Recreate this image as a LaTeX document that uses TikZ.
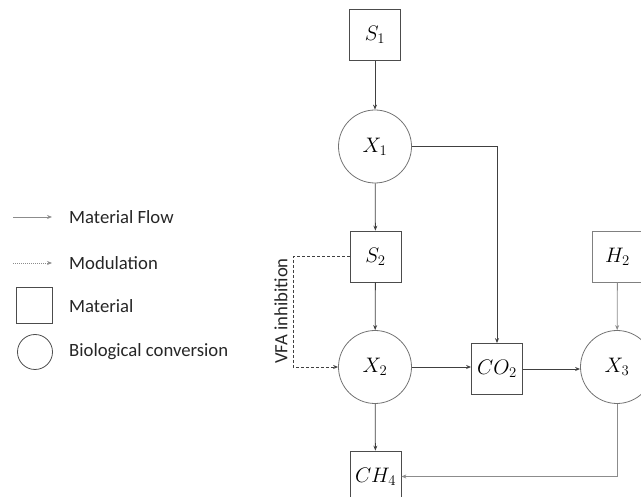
\RequirePackage{fix-cm}
\documentclass[tikz,border=0pt]{standalone}
\usepackage{fontspec}
\setsansfont{Carlito}
\usetikzlibrary{arrows.meta}
\begin{document}
\begin{tikzpicture}[x=1pt,y=-1pt,
  mat/.style={draw=black!70, line width=0.8pt, minimum width=51pt, minimum height=51pt, inner sep=0pt, font=\fontsize{21}{25}\selectfont},
  bio/.style={circle, draw=black!55, line width=0.8pt, minimum size=73pt, inner sep=0pt, font=\fontsize{21}{25}\selectfont},
  flow/.style={draw=black!75, line width=0.8pt, -{Stealth[length=5pt,width=4pt]}},
  lightflow/.style={flow, draw=black!45},
  modu/.style={flow, dash pattern=on 3pt off 2pt},
  lbl/.style={font=\sffamily\fontsize{18.7}{22}\selectfont, text=black!85, inner sep=0pt}
]
\useasboundingbox (0,0) rectangle (641,497);
\clip (0,0) rectangle (641,497);
% main nodes
\node[mat] (S1) at (375,35) {$S_1$};
\node[bio] (X1) at (375,146.5) {$X_1$};
\node[mat] (S2) at (375.5,256.5) {$S_2$};
\node[bio] (X2) at (375,367) {$X_2$};
\node[mat] (CO2) at (497,369) {$CO_2$};
\node[bio] (X3) at (617,367) {$X_3$};
\node[mat, draw=black!50] (H2) at (617.5,256.5) {$H_2$};
\node[mat] (CH4) at (375.5,476.5) {$CH_4$};
% connectors
\draw[flow] (S1) -- (X1);
\draw[flow] (X1) -- (S2);
\draw[flow] (X1.east) -| (CO2.north);
\draw[flow] (S2) -- (X2);
\draw[flow] (X2.east) -- (X2.east -| CO2.west);
\draw[flow] (CO2.east) -- (CO2.east -| X3.west);
\draw[lightflow] (H2) -- (X3);
\draw[flow] (X2) -- (CH4);
\draw[lightflow] (X3.south) |- (CH4.east);
\coordinate (vfa) at (293,256.5);
\draw[modu] (S2.west) -- (vfa) |- (X2.west);
\node[lbl, rotate=90] (vfat) at (281,311) {VFA inhibition};
% legend
\coordinate (mfa) at (13,217);
\coordinate (mfb) at (52,217);
\draw[lightflow] (mfa) -- (mfb);
\node[lbl, anchor=west] (mft) at (69,217) {Material Flow};
\coordinate (moa) at (13,263);
\coordinate (mob) at (52,263);
\draw[lightflow, dash pattern=on 1pt off 1pt] (moa) -- (mob);
\node[lbl, anchor=west] (mot) at (69,263) {Modulation};
\node[draw=black!70, line width=0.8pt, minimum size=36pt, inner sep=0pt] (lsq) at (34,305) {};
\node[lbl, anchor=west] (lsqt) at (69,306) {Material};
\node[circle, draw=black!70, line width=0.8pt, minimum size=35pt, inner sep=0pt] (lci) at (35,352) {};
\node[lbl, anchor=west] (lcit) at (69,352) {Biological conversion};
\end{tikzpicture}
\end{document}
